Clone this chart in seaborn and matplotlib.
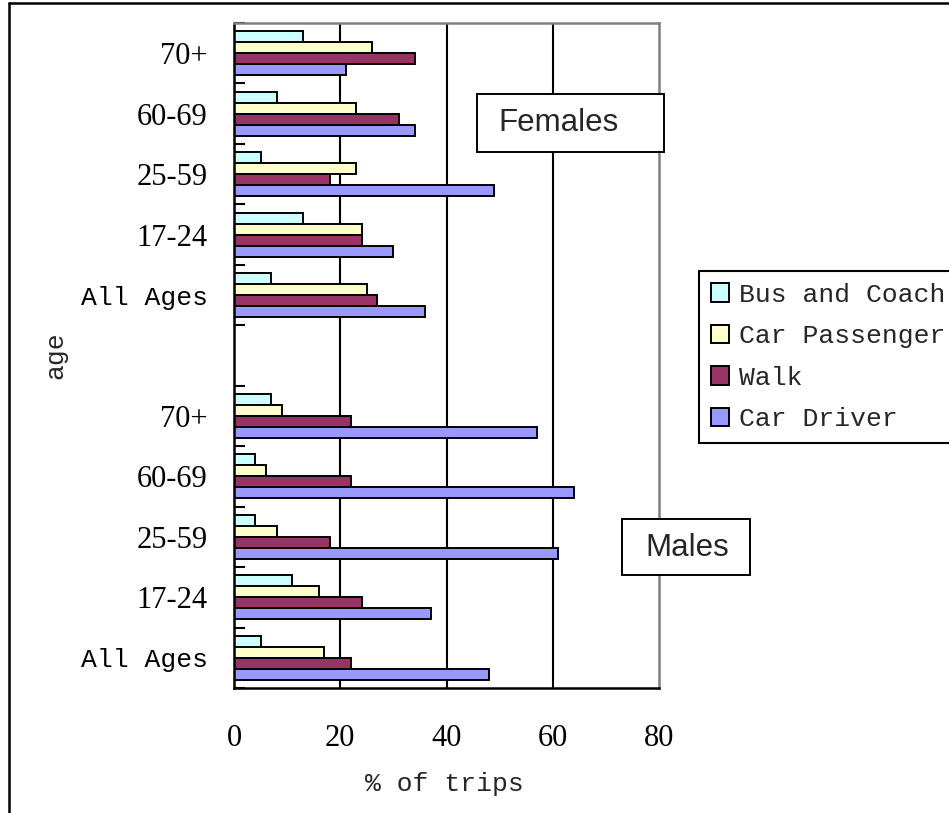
import matplotlib
matplotlib.use("Agg")
import matplotlib.pyplot as plt
from matplotlib.lines import Line2D
from matplotlib.patches import Rectangle
import seaborn as sns
import pandas as pd

# ---- data -------------------------------------------------------------
modes = ["Bus and Coach", "Car Passenger", "Walk", "Car Driver"]
age_groups = ["70+", "60-69", "25-59", "17-24", "All Ages"]

female_bus = [13, 8, 5, 13, 7]
female_passenger = [26, 23, 23, 24, 25]
female_walk = [34, 31, 18, 24, 27]
female_driver = [21, 34, 49, 30, 36]

male_bus = [7, 4, 4, 11, 5]
male_passenger = [9, 6, 8, 16, 17]
male_walk = [22, 22, 18, 24, 22]
male_driver = [57, 64, 61, 37, 48]

x_ticks = [0, 20, 40, 60, 80]
colors = ["#CCFFFF", "#FFFFCC", "#993366", "#9999FF"]

# ---- long table --------------------------------------------------------
rows = []
for sex, series in [("Females", [female_bus, female_passenger, female_walk, female_driver]),
                    ("Males", [male_bus, male_passenger, male_walk, male_driver])]:
    for mode, vals in zip(modes, series):
        for age, v in zip(age_groups, vals):
            rows.append({"group": f"{sex} {age}", "mode": mode, "pct": v})
df = pd.DataFrame(rows)

order = [f"Females {a}" for a in age_groups] + [" "] + [f"Males {a}" for a in age_groups]

# ---- figure -------------------------------------------------------------
W, H = 949, 813
sns.set_theme(style="white")
plt.rcParams["font.family"] = ["Liberation Mono", "DejaVu Sans"]

fig = plt.figure(figsize=(W / 100, H / 100), dpi=100)


def fx(px):
    return px / W


def fy(py):
    return 1 - py / H


ax = fig.add_axes([fx(234), fy(688), fx(659) - fx(234), fy(23) - fy(688)])

sns.barplot(data=df, y="group", x="pct", hue="mode", order=order, hue_order=modes,
            palette=colors, orient="h", width=0.73, gap=0, edgecolor="black",
            linewidth=1.4, saturation=1, errorbar=None, ax=ax)

leg = ax.get_legend()
handles = leg.legend_handles
labels = [t.get_text() for t in leg.get_texts()]
leg.remove()

ax.set_xlim(0, 80)
ax.set_ylim(10.5, -0.5)

# vertical gridlines
for v in x_ticks[1:-1]:
    ax.axvline(v, color="black", lw=1.5, zorder=0)

for side in ["left", "bottom"]:
    ax.spines[side].set_color("black")
    ax.spines[side].set_linewidth(1.8)
for side in ["top", "right"]:
    ax.spines[side].set_color("#808080")
    ax.spines[side].set_linewidth(1.8)
    ax.spines[side].set_visible(True)

# x axis
ax.set_xticks(x_ticks)
ax.set_xticklabels([str(t) for t in x_ticks], family="Liberation Serif", fontsize=22)
ax.tick_params(axis="x", length=0, pad=26, colors="black")

# y axis: labels at slot centres, short inward ticks at slot boundaries
positions = [i for i in range(len(order)) if order[i].strip()]
ylabels = [order[i].split(" ", 1)[1] for i in positions]
ax.set_yticks(positions)
ax.set_yticklabels(ylabels)
for t in ax.get_yticklabels():
    if t.get_text() == "All Ages":
        t.set_family("Liberation Mono")
        t.set_fontsize(19)
    else:
        t.set_family("Liberation Serif")
        t.set_fontsize(22)
ax.tick_params(axis="y", which="major", length=0, pad=19, colors="black")
ax.set_yticks([i - 0.5 for i in range(len(order) + 1)], minor=True)
ax.tick_params(axis="y", which="minor", direction="in", length=8, width=1.5,
               color="black", left=True)

ax.set_xlabel("% of trips", fontsize=19, family="Liberation Mono")
ax.set_ylabel("age", fontsize=19, family="Liberation Mono")
ax.xaxis.set_label_coords(0.495, -0.126)
ax.yaxis.set_label_coords(-0.392, 0.5)

# legend
lg = fig.legend(handles, labels, loc="upper left",
                bbox_to_anchor=(fx(699), fy(271)), borderaxespad=0,
                prop={"family": "Liberation Mono", "size": 19},
                handlelength=0.7, handleheight=0.7, handletextpad=0.38,
                borderpad=0.45, labelspacing=0.66, frameon=True, fancybox=False,
                framealpha=1, edgecolor="black")
lg.get_frame().set_linewidth(1.5)
for h in lg.legend_handles:
    h.set_edgecolor("black")
    h.set_linewidth(1.4)


# annotation boxes
def label_box(x0, y0, x1, y1, text, tx, ty):
    fig.add_artist(Rectangle((fx(x0), fy(y1)), fx(x1) - fx(x0), fy(y0) - fy(y1),
                             transform=fig.transFigure, facecolor="white",
                             edgecolor="black", lw=1.4, zorder=5))
    fig.text(fx(tx), fy(ty), text, family="Liberation Sans", fontsize=22.5,
             ha="left", va="center", zorder=6)


label_box(477, 94, 664, 152, "Females", 498, 123)
label_box(622, 519, 750, 575, "Males", 645, 548)

# outer frame
fig.add_artist(Line2D([fx(9), 1.01], [fy(3), fy(3)], transform=fig.transFigure,
                      color="black", lw=1.8))
fig.add_artist(Line2D([fx(9), fx(9)], [-0.01, fy(3)], transform=fig.transFigure,
                      color="black", lw=1.8))

fig.savefig("out.png", dpi=100, facecolor="white")
